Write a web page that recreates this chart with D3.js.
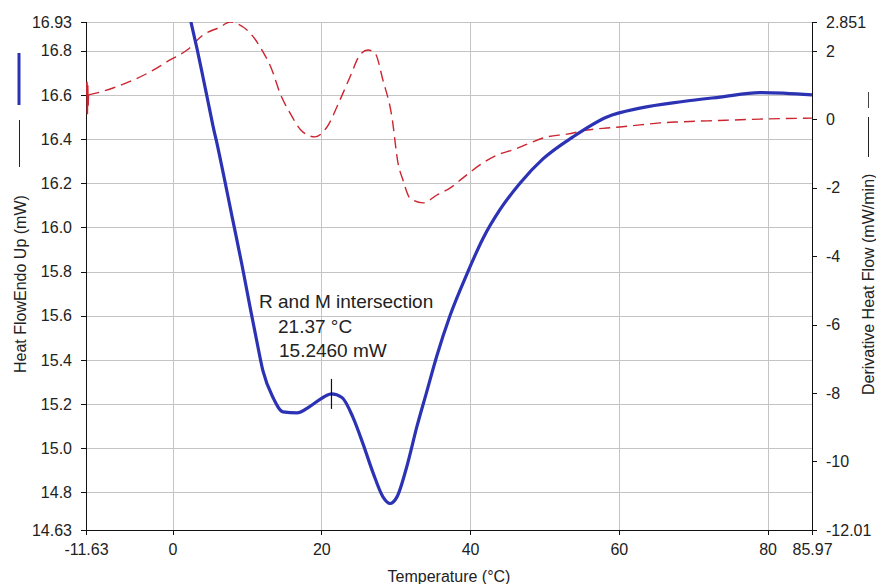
<!DOCTYPE html>
<meta charset="utf-8">
<style>
  body, html { margin:0; padding:0; background:#fff; }
  svg { display:block; }
  text { font-family: "Liberation Sans", Arial, sans-serif; fill:#222; }
  .axis path, .axis line { stroke:#111; shape-rendering:crispEdges; }
  .axis text { font-size:16px; fill:#222; }
  .grid line { stroke:#c4c4c4; stroke-width:1; shape-rendering:crispEdges; }
</style>
<body>
<svg width="876" height="584"></svg>
<script src="https://d3js.org/d3.v7.min.js"></script>
<script>

// heat flow (left axis, mW) vs temperature (°C)
var tempBlue = [2.48, 3.29, 4.10, 4.77, 5.44, 6.11, 6.79, 7.46, 8.0, 9.34, 10.42, 11.36, 12.16,
    13.51, 14.85, 16.73, 18.48, 20.23, 21.37, 22.78, 24.26, 25.61, 26.95, 28.29, 29.24, 30.18,
    31.52, 32.87, 34.21, 35.55, 37.30, 39.59, 41.74, 44.02, 46.71, 49.80, 53.84, 58.41, 62.84,
    68.62, 73.60, 78.97, 85.96];
var heatFlow = [16.93, 16.81, 16.68, 16.57, 16.46, 16.36, 16.25, 16.14, 16.05, 15.83, 15.64, 15.48, 15.35,
    15.23, 15.165, 15.16, 15.19, 15.23, 15.246, 15.23, 15.14, 15.02, 14.89, 14.78, 14.75, 14.78,
    14.92, 15.10, 15.26, 15.42, 15.60, 15.79, 15.95, 16.08, 16.20, 16.31, 16.41, 16.50, 16.54,
    16.57, 16.59, 16.61, 16.60];

// derivative heat flow (right axis, mW/min); first points are the start-up noise
var tempRed = [-11.55, -11.50, -11.45, -11.40, -11.35, -11.30, -9.75, -8.00, -5.31, -3.03, -0.34, 1.95,
    4.10, 6.38, 7.73, 8.80, 10.42, 12.03, 13.37, 14.45, 15.79, 17.54, 19.15, 20.77, 22.51, 23.86,
    25.20, 26.28, 27.22, 28.29, 29.50, 30.31, 30.98, 31.92, 33.67, 35.55, 37.30, 39.05, 41.33,
    43.62, 45.77, 48.05, 50.34, 53.03, 55.72, 58.41, 60.15, 62.84, 65.53, 68.22, 73.5, 78.97, 85.96];
var derivative = [0.72, 1.10, 0.15, 1.00, 0.40, 0.72, 0.80, 0.92, 1.15, 1.39, 1.74, 2.03,
    2.47, 2.70, 2.85, 2.79, 2.53, 2.03, 1.45, 0.77, 0.19, -0.37, -0.51, -0.22, 0.57, 1.24,
    1.89, 2.03, 1.94, 1.15, 0.07, -1.27, -1.77, -2.30, -2.44, -2.21, -2.01, -1.71, -1.33,
    -1.04, -0.89, -0.69, -0.51, -0.43, -0.31, -0.25, -0.22, -0.16, -0.10, -0.07, -0.03, 0.01, 0.04];
var noisePoints = 6;

var xTicks = [-11.63, 0, 20, 40, 60, 80, 85.97];
var xTickLabels = ["-11.63", "0", "20", "40", "60", "80", "85.97"];
var leftTicks = [16.93, 16.8, 16.6, 16.4, 16.2, 16.0, 15.8, 15.6, 15.4, 15.2, 15.0, 14.8, 14.63];
var leftTickLabels = ["16.93", "16.8", "16.6", "16.4", "16.2", "16.0", "15.8", "15.6", "15.4", "15.2", "15.0", "14.8", "14.63"];
var rightTicks = [2.851, 2, 0, -2, -4, -6, -8, -10, -12.01];
var rightTickLabels = ["2.851", "2", "0", "-2", "-4", "-6", "-8", "-10", "-12.01"];

var marker = {t: 21.37, hf: 15.246};
var markerLines = ["R and M intersection", "21.37 °C", "15.2460 mW"];

var svg = d3.select("svg");
var plot = {left: 86, right: 812, top: 22, bottom: 530};

var x = d3.scaleLinear().domain([-11.63, 85.97]).range([plot.left, plot.right]);
var yL = d3.scaleLinear().domain([14.63, 16.93]).range([plot.bottom, plot.top]);
var yR = d3.scaleLinear().domain([-12.01, 2.851]).range([plot.bottom, plot.top]);

svg.append("defs").append("clipPath").attr("id", "clip")
    .append("rect")
    .attr("x", plot.left).attr("y", plot.top)
    .attr("width", plot.right - plot.left).attr("height", plot.bottom - plot.top);

// grid
var grid = svg.append("g").attr("class", "grid");
grid.selectAll(".h").data(leftTicks.filter(function(d) { return d > 14.63; }))
    .enter().append("line")
    .attr("x1", plot.left).attr("x2", plot.right)
    .attr("y1", function(d) { return Math.round(yL(d)) + 0.5; })
    .attr("y2", function(d) { return Math.round(yL(d)) + 0.5; });
grid.selectAll(".v").data(xTicks.slice(1, -1))
    .enter().append("line")
    .attr("y1", plot.top).attr("y2", plot.bottom)
    .attr("x1", function(d) { return Math.round(x(d)) + 0.5; })
    .attr("x2", function(d) { return Math.round(x(d)) + 0.5; });

// axes
svg.append("g").attr("class", "axis")
    .attr("transform", "translate(0," + plot.bottom + ")")
    .call(d3.axisBottom(x).tickValues(xTicks).tickSize(5).tickPadding(9)
        .tickFormat(function(d, i) { return xTickLabels[i]; }))
    .call(function(g) { g.select(".domain").attr("stroke-width", 1.5); });

svg.append("g").attr("class", "axis")
    .attr("transform", "translate(" + plot.left + ",0)")
    .call(d3.axisLeft(yL).tickValues(leftTicks).tickSize(5).tickPadding(9)
        .tickFormat(function(d, i) { return leftTickLabels[i]; }))
    .call(function(g) { g.select(".domain").attr("stroke-width", 1.5); });

svg.append("g").attr("class", "axis")
    .attr("transform", "translate(" + plot.right + ",0)")
    .call(d3.axisRight(yR).tickValues(rightTicks).tickSize(5).tickPadding(9)
        .tickFormat(function(d, i) { return rightTickLabels[i]; }))
    .call(function(g) { g.select(".domain").attr("stroke-width", 1.5); });

// curves
var lines = svg.append("g").attr("clip-path", "url(#clip)");

var redLine = d3.line()
    .x(function(d) { return x(d[0]); })
    .y(function(d) { return yR(d[1]); })
    .curve(d3.curveMonotoneX);
var redPts = tempRed.map(function(t, i) { return [t, derivative[i]]; });

// start-up noise drawn solid, rest dashed
lines.append("path")
    .datum(redPts.slice(0, noisePoints))
    .attr("fill", "none")
    .attr("stroke", "#cc2530")
    .attr("stroke-width", 1.6)
    .attr("d", redLine.curve(d3.curveLinear));

lines.append("path")
    .datum(redPts.slice(noisePoints - 1))
    .attr("fill", "none")
    .attr("stroke", "#cc2530")
    .attr("stroke-width", 1.4)
    .attr("stroke-dasharray", "11,6")
    .attr("d", redLine.curve(d3.curveMonotoneX));

var blueLine = d3.line()
    .x(function(d, i) { return x(tempBlue[i]); })
    .y(function(d) { return yL(d); })
    .curve(d3.curveMonotoneX);

lines.append("path")
    .datum(heatFlow)
    .attr("fill", "none")
    .attr("stroke", "#2c32b4")
    .attr("stroke-width", 3.2)
    .attr("stroke-linejoin", "round")
    .attr("d", blueLine);

// marker + annotation
var mx = x(marker.t), my = yL(marker.hf);
svg.append("line")
    .attr("x1", mx).attr("x2", mx)
    .attr("y1", my - 15).attr("y2", my + 15)
    .attr("stroke", "#111").attr("stroke-width", 1.2);

svg.append("text").attr("x", 259).attr("y", 308)
    .style("font-size", "19px").text(markerLines[0]);
svg.append("text").attr("x", 278).attr("y", 333)
    .style("font-size", "19px").text(markerLines[1]);
svg.append("text").attr("x", 279).attr("y", 357)
    .style("font-size", "19px").text(markerLines[2]);

// axis titles
svg.append("text")
    .attr("x", (plot.left + plot.right) / 2).attr("y", 582)
    .attr("text-anchor", "middle")
    .style("font-size", "16px")
    .text("Temperature (°C)");

svg.append("text")
    .attr("transform", "translate(26,373) rotate(-90)")
    .style("font-size", "16px")
    .text("Heat FlowEndo Up (mW)");
svg.append("line").attr("x1", 19.5).attr("x2", 19.5).attr("y1", 120).attr("y2", 167)
    .attr("stroke", "#222").attr("stroke-width", 1);
svg.append("line").attr("x1", 19).attr("x2", 19).attr("y1", 53).attr("y2", 105)
    .attr("stroke", "#2c32b4").attr("stroke-width", 3);

svg.append("text")
    .attr("transform", "translate(874,395) rotate(-90)")
    .style("font-size", "16px")
    .text("Derivative Heat Flow (mW/min)");
svg.append("line").attr("x1", 868.5).attr("x2", 868.5).attr("y1", 117).attr("y2", 157)
    .attr("stroke", "#222").attr("stroke-width", 1);
svg.append("line").attr("x1", 868.5).attr("x2", 868.5).attr("y1", 92).attr("y2", 108)
    .attr("stroke", "#444").attr("stroke-width", 1);

</script>
</body>
